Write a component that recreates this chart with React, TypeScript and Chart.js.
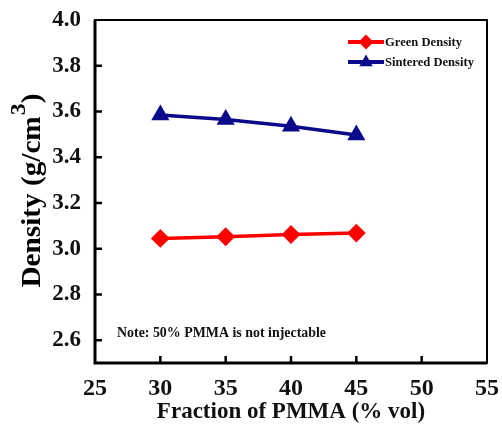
import React, { useEffect, useRef } from "react";
import { Chart, registerables } from "chart.js";

Chart.register(...registerables);

const fractions = [30, 35, 40, 45];
const greenDensity = [3.045, 3.052, 3.062, 3.068];
const sinteredDensity = [3.585, 3.565, 3.535, 3.497];
const xTicks = [25, 30, 35, 40, 45, 50, 55];
const yTicks = [2.6, 2.8, 3.0, 3.2, 3.4, 3.6, 3.8, 4.0];
const seriesNames = ["Green Density", "Sintered Density"];
const xTitle = "Fraction of PMMA (% vol)";
const yTitleMain = "Density (g/cm";
const yTitleSup = "3";
const yTitleEnd = ")";
const noteText = "Note: 50% PMMA is not injectable";

const FONT = "'Liberation Serif', 'Times New Roman', serif";

function drawMarker(ctx: CanvasRenderingContext2D, style: string, r: number, x: number, y: number, color: string) {
  ctx.fillStyle = color;
  ctx.beginPath();
  if (style === "rectRot") {
    ctx.moveTo(x, y - r);
    ctx.lineTo(x + r, y);
    ctx.lineTo(x, y + r);
    ctx.lineTo(x - r, y);
  } else {
    ctx.moveTo(x, y - r);
    ctx.lineTo(x + r * 0.9, y + r * 0.55);
    ctx.lineTo(x - r * 0.9, y + r * 0.55);
  }
  ctx.closePath();
  ctx.fill();
}

function fitText(ctx: CanvasRenderingContext2D, text: string, x: number, y: number, width: number) {
  const w = ctx.measureText(text).width;
  ctx.save();
  ctx.translate(x, y);
  ctx.scale(width / w, 1);
  ctx.fillText(text, 0, 0);
  ctx.restore();
}

const framePlugin = {
  id: "frame",
  afterDatasetsDraw(chart: any) {
    const { ctx, chartArea, scales } = chart;
    const { left, right, top, bottom } = chartArea;
    ctx.save();
    ctx.strokeStyle = "#000";
    // inward ticks
    ctx.lineWidth = 2.5;
    ctx.beginPath();
    xTicks.forEach((v) => {
      const x = scales.x.getPixelForValue(v);
      if (Math.abs(x - left) < 2 || Math.abs(x - right) < 2) return;
      ctx.moveTo(x, bottom);
      ctx.lineTo(x, bottom - 7);
    });
    yTicks.forEach((v) => {
      const y = scales.y.getPixelForValue(v);
      if (Math.abs(y - top) < 2 || Math.abs(y - bottom) < 2) return;
      ctx.moveTo(left, y);
      ctx.lineTo(left + 7, y);
    });
    ctx.stroke();
    // frame
    ctx.lineWidth = 2;
    ctx.strokeRect(left, top, right - left, bottom - top);
    ctx.lineWidth = 3;
    ctx.beginPath();
    ctx.moveTo(left, top);
    ctx.lineTo(left, bottom);
    ctx.lineTo(right, bottom);
    ctx.stroke();

    // y title
    ctx.fillStyle = "#000";
    ctx.translate(33, 190);
    ctx.rotate(-Math.PI / 2);
    const mainFont = `bold 27px ${FONT}`;
    const supFont = `bold 22px ${FONT}`;
    ctx.font = mainFont;
    const w1 = ctx.measureText(yTitleMain).width;
    const w3 = ctx.measureText(yTitleEnd).width;
    ctx.font = supFont;
    const w2 = ctx.measureText(yTitleSup).width;
    const total = w1 + w2 + w3 + 2;
    const target = 195;
    ctx.scale(target / total, 1);
    const x0 = -total / 2;
    ctx.textBaseline = "middle";
    ctx.textAlign = "left";
    ctx.font = mainFont;
    ctx.fillText(yTitleMain, x0, 0);
    ctx.font = supFont;
    ctx.fillText(yTitleSup, x0 + w1 + 1, -14);
    ctx.font = mainFont;
    ctx.fillText(yTitleEnd, x0 + w1 + w2 + 1, 0);
    ctx.restore();

    // note
    ctx.save();
    ctx.fillStyle = "#111";
    ctx.font = `bold 14px ${FONT}`;
    ctx.textBaseline = "middle";
    ctx.textAlign = "left";
    fitText(ctx, noteText, 117, 333, 209);
    ctx.restore();

    // legend
    ctx.save();
    chart.data.datasets.forEach((ds: any, i: number) => {
      const y = 42 + i * 20;
      ctx.strokeStyle = ds.borderColor;
      ctx.lineWidth = 4;
      ctx.beginPath();
      ctx.moveTo(348, y);
      ctx.lineTo(384, y);
      ctx.stroke();
      drawMarker(ctx, ds.pointStyle, 7.5, 366, y, ds.borderColor);
      ctx.fillStyle = "#111";
      ctx.font = `bold 13px ${FONT}`;
      ctx.textBaseline = "middle";
      ctx.textAlign = "left";
      fitText(ctx, ds.label, 385, y + 1, i === 0 ? 77 : 89);
    });
    ctx.restore();
  },
};

export default function App() {
  const ref = useRef<HTMLCanvasElement>(null);
  useEffect(() => {
    const canvas = ref.current!;
    const chart = new Chart(canvas, {
      type: "line",
      data: {
        datasets: [
          {
            label: seriesNames[0],
            data: fractions.map((x, i) => ({ x, y: greenDensity[i] })),
            borderColor: "#ff0000",
            backgroundColor: "#ff0000",
            pointBackgroundColor: "#ff0000",
            pointBorderColor: "#ff0000",
            pointStyle: "rectRot",
            pointRadius: 7,
            borderWidth: 3.5,
          },
          {
            label: seriesNames[1],
            data: fractions.map((x, i) => ({ x, y: sinteredDensity[i] })),
            borderColor: "#0a0a8a",
            backgroundColor: "#0a0a8a",
            pointBackgroundColor: "#0a0a8a",
            pointBorderColor: "#0a0a8a",
            pointStyle: "triangle",
            pointRadius: 7,
            borderWidth: 3.5,
          },
        ],
      },
      options: {
        animation: false,
        responsive: false,
        layout: { padding: { top: 20, right: 7, left: 0, bottom: 0 } },
        plugins: { legend: { display: false }, tooltip: { enabled: false } },
        scales: {
          x: {
            type: "linear",
            min: 25,
            max: 55,
            afterBuildTicks: (s: any) => {
              s.ticks = xTicks.map((v) => ({ value: v }));
            },
            afterFit: (s: any) => {
              s.height = 67;
            },
            grid: { display: false },
            border: { display: false },
            ticks: {
              color: "#111",
              font: { family: FONT, size: 24, weight: "bold" },
              padding: 3,
              maxRotation: 0,
              callback: (v: any) => String(v),
            },
            title: {
              display: true,
              text: xTitle,
              color: "#111",
              font: { family: FONT, size: 23, weight: "bold" },
              padding: { top: 0, bottom: 4 },
            },
          },
          y: {
            type: "linear",
            min: 2.5,
            max: 4.0,
            afterBuildTicks: (s: any) => {
              s.ticks = yTicks.map((v) => ({ value: v }));
            },
            afterFit: (s: any) => {
              s.width = 95;
            },
            grid: { display: false },
            border: { display: false },
            ticks: {
              color: "#111",
              font: { family: FONT, size: 23, weight: "bold" },
              padding: 6,
              callback: (v: any) => Number(v).toFixed(1),
            },
          },
        },
      },
      plugins: [framePlugin],
    } as any);
    return () => chart.destroy();
  }, []);
  return (
    <div style={{ position: "absolute", left: 0, top: 0, width: 502, height: 430, background: "#fff" }}>
      <canvas ref={ref} width={502} height={430} style={{ width: 502, height: 430 }} />
    </div>
  );
}
